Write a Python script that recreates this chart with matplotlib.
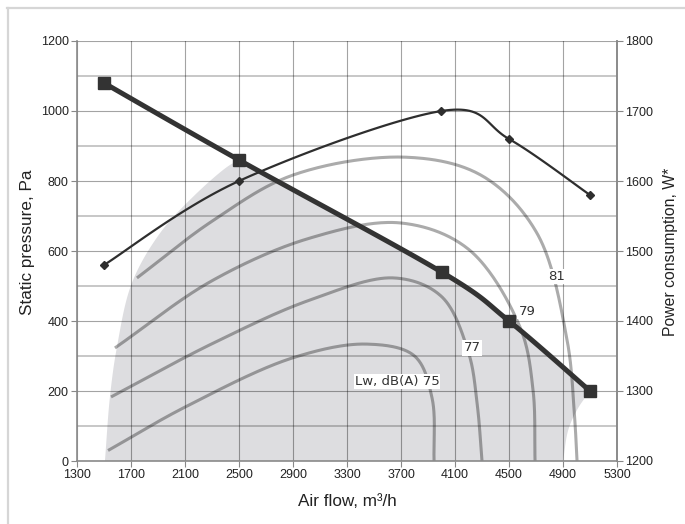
import numpy as np
import matplotlib
matplotlib.use("Agg")
import matplotlib.pyplot as plt
from matplotlib.lines import Line2D

plt.rcParams["font.family"] = ["Liberation Sans", "DejaVu Sans"]

flow_ticks = list(range(1300, 5301, 400))
pa_ticks = list(range(0, 1201, 200))
w_ticks = list(range(1200, 1801, 100))

# fan curve (static pressure) and power consumption
press_flow = [1500, 2500, 4000, 4500, 5100]
press_pa = [1080, 860, 540, 400, 200]
power_flow = [1500, 2500, 4000, 4500, 5100]
power_w = [1480, 1600, 1700, 1660, 1580]

# working area (shaded)
area_left_flow = [1507, 1544, 1596, 1707, 1915, 2160, 2411, 2500]
area_left_pa = [0, 183, 326, 509, 651, 755, 840, 860]
area_right_flow = [5100, 5010, 4940, 4900]
area_right_pa = [200, 150, 90, 0]

# sound power iso-lines
lw75_flow = [1530, 2100, 2900, 3450, 3800, 3930, 3945]
lw75_pa = [30, 154, 295, 334, 300, 180, 0]
lw77_flow = [1552, 2300, 3026, 3650, 4000, 4200, 4265, 4300]
lw77_pa = [183, 335, 460, 523, 470, 310, 160, 0]
lw79_flow = [1581, 2300, 3026, 3700, 4200, 4581, 4678, 4693]
lw79_pa = [323, 515, 637, 680, 605, 383, 203, 0]
lw81_flow = [1744, 2300, 2900, 3737, 4300, 4707, 4930, 4985, 5004]
lw81_pa = [523, 685, 817, 868, 815, 651, 346, 130, 0]

labels = ["Lw, dB(A) 75", "77", "79", "81"]
label_flow = [3670, 4226, 4633, 4856]
label_pa = [226, 323, 426, 526]

SX = 4000 / 540
SY = 1200 / 420
SYW = 600 / 420


def smooth(xs, ys, sx, sy, n=30):
    # excel-like smoothed line: bezier segments with catmull-rom control points
    p = np.column_stack([np.asarray(xs, float) / sx, np.asarray(ys, float) / sy])
    out = []
    t = np.linspace(0, 1, n)[:, None]
    for i in range(len(p) - 1):
        p0 = p[max(i - 1, 0)]
        p1 = p[i]
        p2 = p[i + 1]
        p3 = p[min(i + 2, len(p) - 1)]
        c1 = p1 + (p2 - p0) / 6
        c2 = p2 - (p3 - p1) / 6
        seg = (1 - t)**3 * p1 + 3 * (1 - t)**2 * t * c1 + 3 * (1 - t) * t**2 * c2 + t**3 * p2
        out.append(seg if i == 0 else seg[1:])
    out = np.vstack(out)
    return out[:, 0] * sx, out[:, 1] * sy


def spline(xs, ys, sx, sy, n=40):
    # centripetal catmull-rom, works better with uneven point spacing
    p = np.column_stack([np.asarray(xs, float) / sx, np.asarray(ys, float) / sy])
    p = np.vstack([2 * p[0] - p[1], p, 2 * p[-1] - p[-2]])
    out = []
    for i in range(1, len(p) - 2):
        P0, P1, P2, P3 = p[i - 1], p[i], p[i + 1], p[i + 2]
        t0 = 0.0
        t1 = t0 + np.linalg.norm(P1 - P0)**0.5
        t2 = t1 + np.linalg.norm(P2 - P1)**0.5
        t3 = t2 + np.linalg.norm(P3 - P2)**0.5
        t = np.linspace(t1, t2, n)[:, None]
        A1 = (t1 - t) / (t1 - t0) * P0 + (t - t0) / (t1 - t0) * P1
        A2 = (t2 - t) / (t2 - t1) * P1 + (t - t1) / (t2 - t1) * P2
        A3 = (t3 - t) / (t3 - t2) * P2 + (t - t2) / (t3 - t2) * P3
        B1 = (t2 - t) / (t2 - t0) * A1 + (t - t0) / (t2 - t0) * A2
        B2 = (t3 - t) / (t3 - t1) * A2 + (t - t1) / (t3 - t1) * A3
        C = (t2 - t) / (t2 - t1) * B1 + (t - t1) / (t2 - t1) * B2
        out.append(C if i == 1 else C[1:])
    out = np.vstack(out)
    return out[:, 0] * sx, out[:, 1] * sy


fig = plt.figure(figsize=(6.85, 5.24), dpi=100)
ax = fig.add_axes([77 / 685, 63 / 524, 540 / 685, 420 / 524])

# outer frame of the picture
fig.add_artist(Line2D([7.5 / 685, 7.5 / 685], [0, 516 / 524], transform=fig.transFigure, color="#d6d6d6", lw=1.6))
fig.add_artist(Line2D([7 / 685, 1], [516 / 524, 516 / 524], transform=fig.transFigure, color="#d6d6d6", lw=1.6))

# shaded area
lx, ly = spline(area_left_flow, area_left_pa, SX, SY)
px, py = smooth(press_flow, press_pa, SX, SY)
keep = px >= area_left_flow[-1]
rx, ry = spline(area_right_flow, area_right_pa, SX, SY)
ax.fill(np.concatenate([lx, px[keep], rx]), np.concatenate([ly, py[keep], ry]),
        color="#dddde0", lw=0, zorder=0.2)

# grid
ax.set_xlim(1300, 5300)
ax.set_ylim(0, 1200)
ax.set_xticks(flow_ticks)
ax.set_yticks(pa_ticks)
ax.set_yticks(range(100, 1200, 200), minor=True)
ax.grid(True, which="major", color="black", alpha=0.36, lw=0.8)
ax.grid(True, which="minor", axis="y", color="black", alpha=0.28, lw=1.1)
ax.set_axisbelow(True)
ax.tick_params(which="minor", length=0)
ax.tick_params(which="major", length=4, width=0.8, color="#888888", labelsize=9, pad=2, labelcolor="#222222")

ax.spines["top"].set_visible(False)
for s in ["left", "bottom", "right"]:
    ax.spines[s].set_color("#8a8a8a")
    ax.spines[s].set_linewidth(1.2)

# iso-lines
for fx, fy in [(lw75_flow, lw75_pa), (lw77_flow, lw77_pa), (lw79_flow, lw79_pa), (lw81_flow, lw81_pa)]:
    cx, cy = spline(fx, fy, SX, SY)
    ax.plot(cx, cy, color="black", alpha=0.33, lw=2.2, solid_capstyle="butt", zorder=1)

for s, fx, fy in zip(labels, label_flow, label_pa):
    ax.text(fx, fy, s, ha="center", va="center", fontsize=9.5, family="DejaVu Sans", color="#333333",
            bbox=dict(fc="white", ec="none", pad=0.8), zorder=2)

# static pressure curve
ax.plot(px, py, color="#333333", lw=3.6, zorder=3, solid_capstyle="butt")
ax.plot(press_flow, press_pa, ls="none", marker="s", ms=8.5, color="#333333", zorder=4)

ax.set_xlabel("Air flow, m³/h", fontsize=12.3, color="#222222")
ax.xaxis.set_label_coords(0.5, -0.078)
ax.set_ylabel("Static pressure, Pa", fontsize=12.3, color="#222222")
ax.yaxis.set_label_coords(-0.078, 0.52)

# power consumption on the right axis
ax2 = ax.twinx()
ax2.set_ylim(1200, 1800)
ax2.set_yticks(w_ticks)
ax2.tick_params(length=4, width=0.8, color="#888888", labelsize=9, pad=2, labelcolor="#222222")
for s in ["top", "left", "bottom"]:
    ax2.spines[s].set_visible(False)
ax2.spines["right"].set_color("#8a8a8a")
ax2.spines["right"].set_linewidth(1.2)
wx, wy = smooth(power_flow, power_w, SX, SYW)
ax2.plot(wx, wy, color="#2e2e2e", lw=1.6, zorder=3)
ax2.plot(power_flow, power_w, ls="none", marker="D", ms=4.5, color="#2e2e2e", zorder=4)
ax2.set_ylabel("Power consumption, W*", fontsize=11.3, color="#222222")
ax2.yaxis.set_label_coords(1.085, 0.498)

fig.savefig("out.png", dpi=100, facecolor="white")
